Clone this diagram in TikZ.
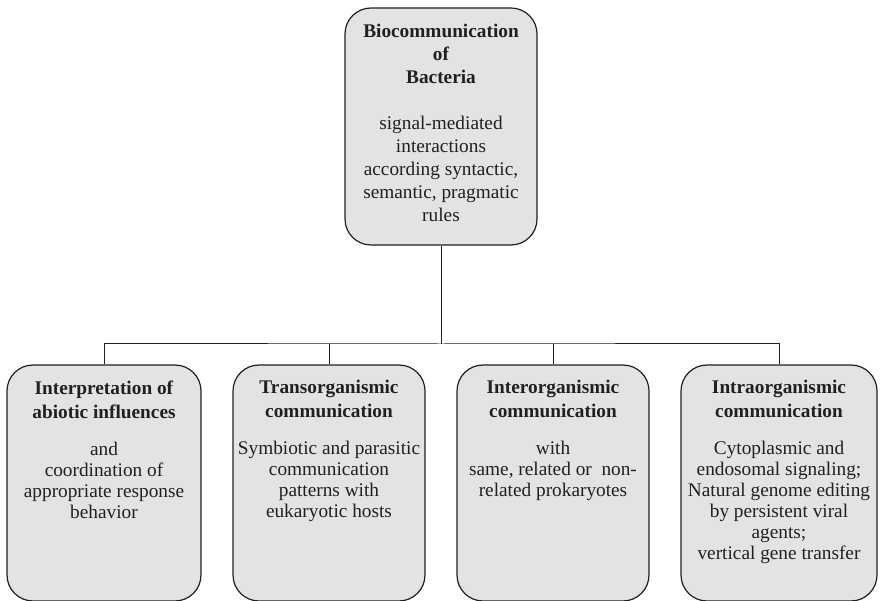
\documentclass[tikz,border=0pt]{standalone}
\usepackage{fontspec}
\setmainfont{Liberation Serif}
\definecolor{boxfill}{RGB}{226,227,229}
\definecolor{ink}{RGB}{35,31,32}
\begin{document}
\begin{tikzpicture}[x=1pt,y=-1pt,
  box/.style={draw=ink,line width=1.2pt,fill=boxfill,rounded corners=26pt,inner sep=0pt},
  txt/.style={anchor=north,align=center,text=ink,inner sep=0pt,font=\fontsize{19.3}{21}\selectfont},
  conn/.style={draw=ink,line width=1pt}]
\useasboundingbox (0,0) rectangle (881,601);
% top box
\node[box,minimum width=192pt,minimum height=237pt] (top) at (441,126.5) {};
\node[txt] (toptxt) at ([yshift=-17pt]top.north) {\textbf{Biocommunication}\\[2pt]\textbf{of}\\[2pt]\textbf{Bacteria}\\[25pt]signal-mediated\\[2pt]interactions\\[2pt]according syntactic,\\[2pt]semantic, pragmatic\\[2pt]rules};
% bottom boxes
\node[box,minimum width=194pt,minimum height=236pt] (b1) at (104,483) {};
\node[box,minimum width=192pt,minimum height=236pt] (b2) at (329,483) {};
\node[box,minimum width=192pt,minimum height=236pt] (b3) at (553,483) {};
\node[box,minimum width=196pt,minimum height=236pt] (b4) at (779,483) {};
\node[txt] (t1) at ([yshift=-16pt]b1.north) {\textbf{Interpretation of}\\[3pt]\textbf{abiotic influences}\\[16pt]and\\coordination of\\appropriate response\\behavior};
\node[txt] (t2) at ([yshift=-16pt]b2.north) {\textbf{Transorganismic}\\[3pt]\textbf{communication}\\[16pt]Symbiotic and parasitic\\communication\\patterns with\\eukaryotic hosts};
\node[txt] (t3) at ([yshift=-16pt]b3.north) {\textbf{Interorganismic}\\[3pt]\textbf{communication}\\[16pt]with\\same, related or\ \ non-\\related prokaryotes};
\node[txt] (t4) at ([yshift=-16pt]b4.north) {\textbf{Intraorganismic}\\[3pt]\textbf{communication}\\[16pt]Cytoplasmic and\\endosomal signaling;\\Natural genome editing\\by persistent viral\\agents;\\vertical gene transfer};
% connectors
\coordinate (j) at (441,344);
\draw[conn] (top.south) -- (j);
\draw[conn] (b1.north) |- (j) -| (b4.north);
\draw[conn] (b2.north) -- (b2.north |- j);
\draw[conn] (b3.north) -- (b3.north |- j);
\end{tikzpicture}
\end{document}
